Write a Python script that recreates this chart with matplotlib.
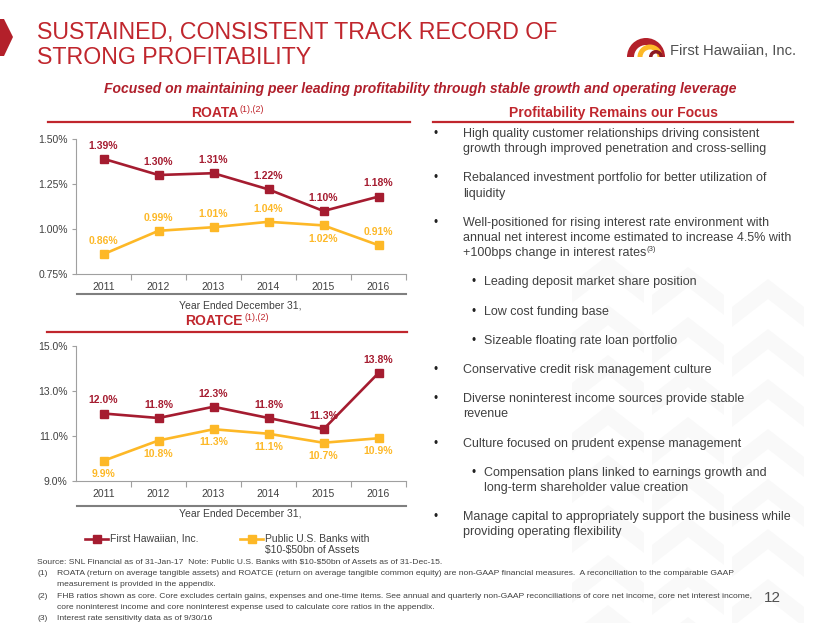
import matplotlib
matplotlib.use('Agg')
import matplotlib.pyplot as plt
from matplotlib.patches import Polygon, Wedge
from matplotlib.lines import Line2D

# ---------------- data ----------------
years = ['2011', '2012', '2013', '2014', '2015', '2016']
roata_fhb = [1.39, 1.30, 1.31, 1.22, 1.10, 1.18]
roata_peer = [0.86, 0.99, 1.01, 1.04, 1.02, 0.91]
roatce_fhb = [12.0, 11.8, 12.3, 11.8, 11.3, 13.8]
roatce_peer = [9.9, 10.8, 11.3, 11.1, 10.7, 10.9]
roata_ticks = [0.75, 1.00, 1.25, 1.50]
roatce_ticks = [9.0, 11.0, 13.0, 15.0]
roata_peer_below = [False, False, False, False, True, False]
roatce_peer_below = [True, True, True, True, True, True]
series_names = ['First Hawaiian, Inc.', 'Public U.S. Banks with\n\\$10-\\$50bn of Assets']

title_lines = ['SUSTAINED, CONSISTENT TRACK RECORD OF', 'STRONG PROFITABILITY']
subtitle = 'Focused on maintaining peer leading profitability through stable growth and operating leverage'
right_header = 'Profitability Remains our Focus'
bullets = [
    (0, ['High quality customer relationships driving consistent',
         'growth through improved penetration and cross-selling']),
    (0, ['Rebalanced investment portfolio for better utilization of', 'liquidity']),
    (0, ['Well-positioned for rising interest rate environment with',
         'annual net interest income estimated to increase 4.5% with',
         '+100bps change in interest rates']),
    (1, ['Leading deposit market share position']),
    (1, ['Low cost funding base']),
    (1, ['Sizeable floating rate loan portfolio']),
    (0, ['Conservative credit risk management culture']),
    (0, ['Diverse noninterest income sources provide stable', 'revenue']),
    (0, ['Culture focused on prudent expense management']),
    (1, ['Compensation plans linked to earnings growth and',
         'long-term shareholder value creation']),
    (0, ['Manage capital to appropriately support the business while',
         'providing operating flexibility']),
]
footnotes = [
    ('', ['Source: SNL Financial as of 31-Jan-17  Note: Public U.S. Banks with \\$10-\\$50bn of Assets as of 31-Dec-15.']),
    ('(1)', ['ROATA (return on average tangible assets) and ROATCE (return on average tangible common equity) are non-GAAP financial measures.  A reconciliation to the comparable GAAP',
             'measurement is provided in the appendix.']),
    ('(2)', ['FHB ratios shown as core. Core excludes certain gains, expenses and one-time items. See annual and quarterly non-GAAP reconciliations of core net income, core net interest income,',
             'core noninterest income and core noninterest expense used to calculate core ratios in the appendix.']),
    ('(3)', ['Interest rate sensitivity data as of 9/30/16']),
]

# ---------------- style ----------------
NARROW = ['Liberation Sans Narrow', 'Liberation Sans', 'DejaVu Sans']
ARIAL = ['Liberation Sans', 'DejaVu Sans']
plt.rcParams['font.family'] = NARROW
RED_T = '#C0262D'
RED_L = '#A51C30'
GOLD = '#FDB827'
GRAY_T = '#404040'
AX_GRAY = '#A0A0A0'

W, H = 830, 623
fig = plt.figure(figsize=(W / 100, H / 100), dpi=100)
bg = fig.add_axes([0, 0, 1, 1])
bg.set_xlim(0, W)
bg.set_ylim(H, 0)
bg.axis('off')

# faint watermark chevrons
def chevron(cx, cy, w, h, t, col):
    pts = [(cx - w, cy + h), (cx, cy), (cx + w, cy + h), (cx + w, cy + h + t), (cx, cy + t), (cx - w, cy + h + t)]
    bg.add_patch(Polygon(pts, closed=True, fc=col, ec='none', zorder=0))

for ci, col_x in enumerate([608, 688, 768]):
    for k in range(8):
        chevron(col_x, 255 + k * 50 + ci * 12, 36, 28, 20, '#F9F9F9')

# left red arrow
bg.add_patch(Polygon([(0, 19), (4, 19), (13, 37), (4, 56), (0, 56)], closed=True, fc='#B3202A', ec='none'))

# title
for i, ln in enumerate(title_lines):
    bg.text(37, 33 + i * 25, ln, fontsize=16.7, color=RED_T, va='center', ha='left', family=NARROW)

# logo
bg.add_patch(Wedge((646, 57), 19, 180, 360, width=7, fc='#B3202A', ec='none'))
bg.add_patch(Wedge((650, 57), 12.5, 180, 360, width=5, fc='#FDB827', ec='none'))
bg.add_patch(Wedge((656, 57), 7, 180, 360, width=3.5, fc='#8C1A24', ec='none'))
bg.text(670, 51, 'First Hawaiian, Inc.', fontsize=10.6, color='#505050', va='center', ha='left', family=ARIAL)

# subtitle
bg.text(420, 89, subtitle, fontsize=10, color='#B01F2B', style='italic', weight='bold',
        va='center', ha='center', family=NARROW)

# section headers
bg.text(238, 113, 'ROATA', fontsize=10, weight='bold', color=RED_T, va='center', ha='right')
bg.text(239, 110, '(1),(2)', fontsize=6.5, color=RED_T, va='center', ha='left')
bg.plot([48, 410], [122, 122], color=RED_T, lw=1.6)
bg.text(613, 113, right_header, fontsize=10, weight='bold', color=RED_T, va='center', ha='center')
bg.plot([433, 793], [122, 122], color=RED_T, lw=1.6)

bg.text(243, 321, 'ROATCE', fontsize=10, weight='bold', color=RED_T, va='center', ha='right')
bg.text(244, 318, '(1),(2)', fontsize=6.5, color=RED_T, va='center', ha='left')
bg.plot([47, 407], [332, 332], color=RED_T, lw=1.6)

# x-axis "Year Ended" separators
for ly, ty in [(294, 305), (506, 513)]:
    bg.plot([77, 406], [ly, ly], color='#7F7F7F', lw=1.5)
    bg.text(240, ty, 'Year Ended December 31,', fontsize=7.5, color=GRAY_T, va='center', ha='center')


def line_chart(rect, fhb, peer, ticks, fmt, peer_below):
    ax = fig.add_axes(rect)
    ax.patch.set_alpha(0)
    x = list(range(len(years)))
    ax.plot(x, fhb, color=RED_L, lw=1.9, marker='s', ms=5.5, zorder=3)
    ax.plot(x, peer, color=GOLD, lw=1.9, marker='s', ms=5.5, zorder=3)
    for i in x:
        ax.annotate(fmt(fhb[i]), (i, fhb[i]), xytext=(0, 9.5), textcoords='offset points',
                    ha='center', va='center', fontsize=7.5, weight='bold', color=RED_L)
        dy = -9.5 if peer_below[i] else 9.5
        ax.annotate(fmt(peer[i]), (i, peer[i]), xytext=(0, dy), textcoords='offset points',
                    ha='center', va='center', fontsize=7.5, weight='bold', color=GOLD)
    ax.set_xlim(-0.5, len(years) - 0.5)
    ax.set_ylim(ticks[0], ticks[-1])
    ax.set_yticks(ticks)
    ax.set_yticklabels([fmt(t) for t in ticks])
    ax.set_xticks(x)
    ax.set_xticklabels(years)
    ax.set_xticks([i + 0.5 for i in x], minor=True)
    ax.tick_params(axis='x', which='major', length=0, pad=6, labelsize=7.5, labelcolor=GRAY_T)
    ax.tick_params(axis='x', which='minor', length=4, color=AX_GRAY, width=0.8)
    ax.tick_params(axis='y', length=3, color=AX_GRAY, width=0.8, pad=3, labelsize=7.5, labelcolor=GRAY_T)
    for s in ['top', 'right']:
        ax.spines[s].set_visible(False)
    for s in ['left', 'bottom']:
        ax.spines[s].set_color(AX_GRAY)
        ax.spines[s].set_linewidth(0.8)
    return ax


line_chart([76 / W, 1 - 274 / H, 330 / W, 135 / H], roata_fhb, roata_peer, roata_ticks,
           lambda v: f'{v:.2f}%', roata_peer_below)
line_chart([76 / W, 1 - 481 / H, 330 / W, 135 / H], roatce_fhb, roatce_peer, roatce_ticks,
           lambda v: f'{v:.1f}%', roatce_peer_below)

# legend (manual)
for (x0, col, name) in [(85, RED_L, series_names[0]), (240, GOLD, series_names[1])]:
    bg.add_line(Line2D([x0, x0 + 23], [539, 539], color=col, lw=1.9))
    bg.add_line(Line2D([x0 + 11.5], [539], color=col, marker='s', ms=5.5, lw=0))
    bg.text(x0 + 25, 533.5, name, fontsize=7.5, color=GRAY_T, va='top', ha='left', linespacing=1.25)

# bullets on right
r = fig.canvas.get_renderer()
y = 134
for level, lines in bullets:
    bx, tx = (433, 463) if level == 0 else (471, 484)
    bg.text(bx, y, '•', fontsize=8.5, color='#202020', va='center', ha='left', family=ARIAL)
    t = None
    for j, ln in enumerate(lines):
        t = bg.text(tx, y + j * 15.2, ln, fontsize=9, color=GRAY_T, va='center', ha='left', family=ARIAL)
    if lines[-1].endswith('interest rates'):
        bb = t.get_window_extent(renderer=r)
        xr = bg.transData.inverted().transform((bb.x1, bb.y0))[0]
        bg.text(xr + 0.5, y + (len(lines) - 1) * 15.2 - 4, '(3)', fontsize=5.5, color=GRAY_T,
                va='center', ha='left', family=ARIAL)
    y += (len(lines) - 1) * 15.2 + 29.2

# footnotes
fy = 562
for tag, lines in footnotes:
    if tag:
        bg.text(37, fy, tag, fontsize=6.1, color=GRAY_T, va='center', ha='left')
        xs = 57
    else:
        xs = 37
    for ln in lines:
        bg.text(xs, fy, ln, fontsize=6.1, color=GRAY_T, va='center', ha='left')
        fy += 11.4

bg.text(764, 598, '12', fontsize=11, color='#505050', va='center', ha='left')

fig.savefig('out.png', dpi=100)
